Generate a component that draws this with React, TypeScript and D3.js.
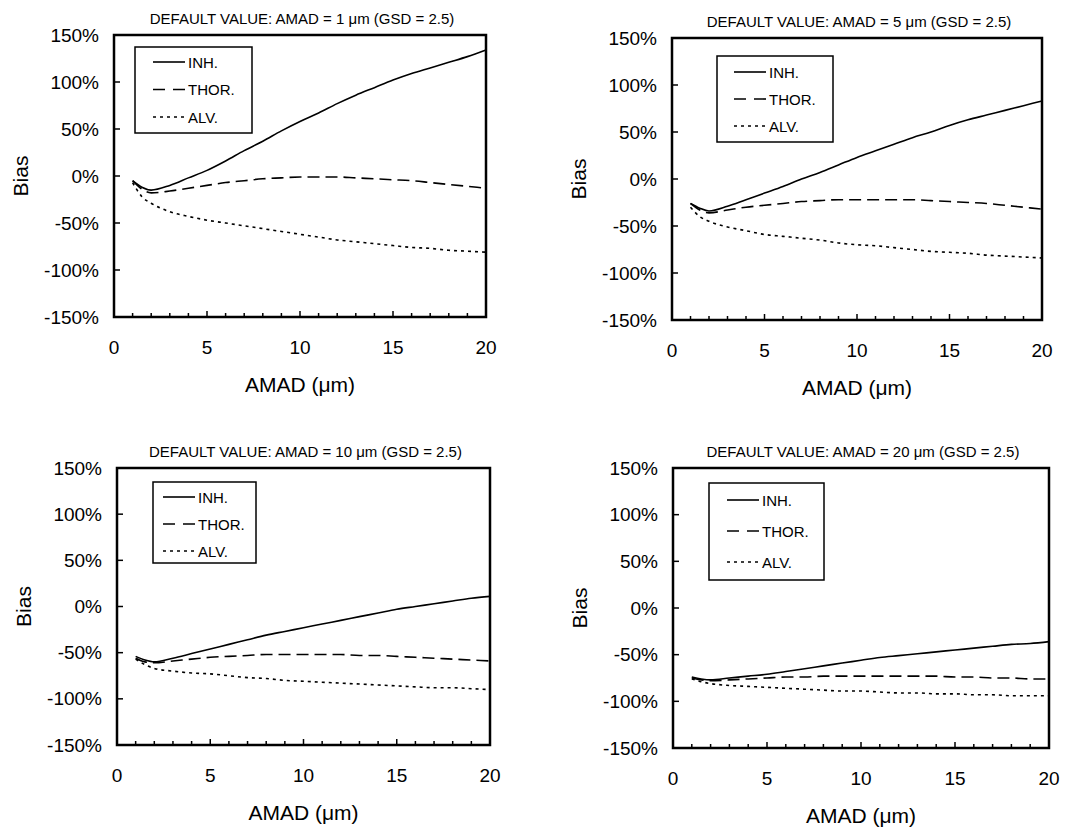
import React from 'react';
import * as d3 from 'd3';

// AMAD values (µm) at which the bias was computed
const AMAD = [1, 1.5, 2, 3, 4, 5, 6, 7, 8, 9, 10, 11, 12, 13, 14, 15, 16, 17, 18, 19, 20];
const DEFAULT_AMAD = [1, 5, 10, 20];
const SERIES_NAMES = ['INH.', 'THOR.', 'ALV.'];
const Y_TICKS = [-150, -100, -50, 0, 50, 100, 150];
const X_MAJOR = [0, 5, 10, 15, 20];

// bias (%) per panel
const INH_1 = [-5, -12, -15, -10, -2, 6, 16, 27, 37, 48, 58, 67, 77, 86, 94, 102, 109, 115, 121, 127, 134];
const THOR_1 = [-5, -14, -18, -16, -13, -10, -7, -5, -3, -2, -1, -1, -1, -2, -3, -4, -5, -7, -9, -11, -13];
const ALV_1 = [-7, -22, -29, -38, -43, -47, -50, -53, -56, -59, -62, -65, -68, -70, -72, -74, -76, -77, -79, -80, -81];

const INH_5 = [-26, -31, -34, -29, -22, -15, -8, 0, 7, 15, 23, 30, 37, 44, 50, 57, 63, 68, 73, 78, 83];
const THOR_5 = [-26, -33, -36, -33, -30, -28, -26, -24, -23, -22, -22, -22, -22, -22, -23, -24, -25, -26, -28, -30, -32];
const ALV_5 = [-30, -40, -45, -51, -55, -59, -61, -63, -65, -68, -70, -71, -73, -75, -77, -78, -79, -81, -82, -83, -84];

const INH_10 = [-54, -58, -60, -56, -51, -46, -41, -36, -31, -27, -23, -19, -15, -11, -7, -3, 0, 3, 6, 9, 11];
const THOR_10 = [-56, -60, -61, -59, -57, -55, -54, -53, -52, -52, -52, -52, -52, -53, -53, -54, -55, -56, -57, -58, -59];
const ALV_10 = [-57, -63, -67, -70, -72, -73, -75, -77, -78, -80, -81, -82, -83, -84, -85, -86, -87, -88, -88, -89, -90];

const INH_20 = [-74, -76, -77, -75, -73, -71, -68, -65, -62, -59, -56, -53, -51, -49, -47, -45, -43, -41, -39, -38, -36];
const THOR_20 = [-75, -77, -78, -77, -76, -75, -74, -74, -73, -73, -73, -73, -73, -73, -73, -74, -74, -75, -75, -76, -76];
const ALV_20 = [-76, -79, -81, -83, -84, -85, -86, -87, -88, -89, -89, -90, -91, -91, -92, -92, -93, -93, -94, -94, -94];

const PANEL_SERIES = [
  [INH_1, THOR_1, ALV_1],
  [INH_5, THOR_5, ALV_5],
  [INH_10, THOR_10, ALV_10],
  [INH_20, THOR_20, ALV_20],
];

const DASHES = [null, '12 6', '3 4'];
const LEGEND_DASHES = [null, '12 8', '3 4'];

const FRAMES = [
  { left: 114, top: 35, right: 486, bottom: 317, lx: 135, ly: 47, lw: 117, lh: 86, lpad: 18, lgap: 27.5, lfirst: 15 },
  { left: 672, top: 38, right: 1042, bottom: 320, lx: 717, ly: 56, lw: 116, lh: 86, lpad: 17, lgap: 27, lfirst: 16 },
  { left: 117, top: 468, right: 490, bottom: 745, lx: 153, ly: 482, lw: 103, lh: 81, lpad: 10, lgap: 27, lfirst: 15 },
  { left: 673, top: 468, right: 1049, bottom: 748, lx: 709, ly: 483, lw: 115, lh: 97, lpad: 18, lgap: 31, lfirst: 17 },
];

const FONT = '"Liberation Sans", Arial, sans-serif';

const Panel = ({ frame, series, amad }) => {
  const x = d3.scaleLinear().domain([0, 20]).range([frame.left, frame.right]);
  const y = d3.scaleLinear().domain([-150, 150]).range([frame.bottom, frame.top]);
  const line = d3.line<number>()
    .x((_, i) => x(AMAD[i]))
    .y(d => y(d))
    .curve(d3.curveMonotoneX);
  const cx = (frame.left + frame.right) / 2;
  const cy = (frame.top + frame.bottom) / 2;

  return (
    <g fontFamily={FONT} fill="#000">
      <text x={cx + 2} y={frame.top - 17} fontSize={15} textAnchor="middle" dominantBaseline="central">
        {`DEFAULT VALUE: AMAD = ${amad} μm (GSD = 2.5)`}
      </text>

      {series.map((vals, i) => (
        <path key={i} d={line(vals)} fill="none" stroke="#000" strokeWidth={1.6}
          strokeDasharray={DASHES[i] || undefined} />
      ))}

      {/* ticks, drawn inside the frame */}
      {Y_TICKS.map(t => (
        <g key={t}>
          <line x1={frame.left} x2={frame.left + 6} y1={y(t)} y2={y(t)} stroke="#000" strokeWidth={1.5} />
          <text x={frame.left - 15} y={y(t)} fontSize={19} textAnchor="end" dominantBaseline="central">{`${t}%`}</text>
        </g>
      ))}
      {d3.range(1, 20).map(t => (
        <line key={t} x1={x(t)} x2={x(t)} y1={frame.bottom} y2={frame.bottom - (t % 5 === 0 ? 6 : 4)}
          stroke="#000" strokeWidth={1.5} />
      ))}
      {X_MAJOR.map(t => (
        <text key={t} x={x(t)} y={frame.bottom + 30} fontSize={19} textAnchor="middle" dominantBaseline="central">{t}</text>
      ))}

      <rect x={frame.left} y={frame.top} width={frame.right - frame.left} height={frame.bottom - frame.top}
        fill="none" stroke="#000" strokeWidth={2.5} />

      <text x={cx} y={frame.bottom + 67} fontSize={21} textAnchor="middle" dominantBaseline="central">AMAD (μm)</text>
      <text transform={`translate(${frame.left - 94},${cy}) rotate(-90)`} fontSize={21} textAnchor="middle"
        dominantBaseline="central">Bias</text>

      {/* legend */}
      <rect x={frame.lx} y={frame.ly} width={frame.lw} height={frame.lh} fill="#fff" stroke="#000" strokeWidth={1.5} />
      {SERIES_NAMES.map((name, i) => {
        const ey = frame.ly + frame.lfirst + i * frame.lgap;
        const x0 = frame.lx + frame.lpad;
        return (
          <g key={name}>
            <line x1={x0} x2={x0 + 32} y1={ey} y2={ey} stroke="#000" strokeWidth={1.6}
              strokeDasharray={LEGEND_DASHES[i] || undefined} />
            <text x={x0 + 35} y={ey} fontSize={15} dominantBaseline="central">{name}</text>
          </g>
        );
      })}
    </g>
  );
};

export default function App() {
  return (
    <svg width={1068} height={830} style={{ position: 'absolute', left: 0, top: 0, background: '#fff' }}>
      <rect width={1068} height={830} fill="#fff" />
      {FRAMES.map((f, i) => (
        <Panel key={i} frame={f} series={PANEL_SERIES[i]} amad={DEFAULT_AMAD[i]} />
      ))}
    </svg>
  );
}
